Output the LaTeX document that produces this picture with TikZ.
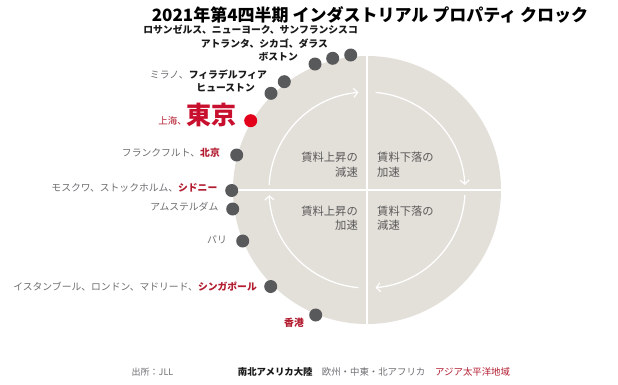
\documentclass[tikz,border=0pt]{standalone}
\usepackage{fontspec}
\setmainfont{Noto Sans CJK JP}
\usetikzlibrary{arrows.meta}
\definecolor{disk}{HTML}{E3DFD9}
\definecolor{dotgray}{HTML}{58595B}
\definecolor{dotred}{HTML}{E2001A}
\definecolor{txtred}{HTML}{B31B2F}
\definecolor{bigred}{HTML}{C8102E}
\definecolor{txtgray}{HTML}{6D6E71}
\definecolor{txtblack}{HTML}{1A1A1A}
\definecolor{quadtxt}{HTML}{5A5A5A}
\tikzset{
  city/.style={circle,fill=dotgray,inner sep=0pt,minimum size=13pt},
  redcity/.style={circle,fill=dotred,inner sep=0pt,minimum size=13pt},
  lab/.style={inner sep=0pt,anchor=east,font=\fontsize{9.8}{11}\selectfont},
  quad/.style={inner sep=0pt,text=quadtxt,font=\fontsize{11.3}{15}\selectfont},
  cyc/.style={draw=white,line width=1.3pt,-{Straight Barb[length=4pt,width=9pt,line width=1.2pt]}},
  leg/.style={inner sep=0pt,anchor=west,font=\fontsize{9.4}{11}\selectfont}
}
\newcommand{\am}[1]{\textcolor{txtblack}{\bfseries #1}}
\newcommand{\eu}[1]{\textcolor{txtgray}{#1}}
\newcommand{\ap}[1]{\textcolor{txtred}{\bfseries #1}}
\begin{document}
\begin{tikzpicture}[x=1pt,y=1pt]
\useasboundingbox (0,0) rectangle (618,-384);
\fill[white] (0,0) rectangle (618,-384);
% disk
\coordinate (C) at (367,-190);
\fill[disk] (C) circle[radius=134];
\draw[white,line width=1.5pt] (367,-56) -- (367,-324);
\draw[white,line width=1.5pt] (233,-190) -- (501,-190);
% cycle arrows
\draw[cyc] (C) ++(177:98) arc[start angle=177,end angle=95,radius=98];
\draw[cyc] (C) ++(85:98) arc[start angle=85,end angle=3,radius=98];
\draw[cyc] (C) ++(-3:98) arc[start angle=-3,end angle=-85,radius=98];
\draw[cyc] (C) ++(-95:98) arc[start angle=-95,end angle=-177,radius=98];
% quadrant texts
\node[quad,anchor=east] (q1a) at (358,-157) {賃料上昇の};
\node[quad,anchor=east] (q1b) at (358,-172) {減速};
\node[quad,anchor=west] (q2a) at (377,-157) {賃料下落の};
\node[quad,anchor=west] (q2b) at (377,-172) {加速};
\node[quad,anchor=east] (q3a) at (358,-211) {賃料上昇の};
\node[quad,anchor=east] (q3b) at (358,-225) {加速};
\node[quad,anchor=west] (q4a) at (377,-211) {賃料下落の};
\node[quad,anchor=west] (q4b) at (377,-225) {減速};
% title
\node[inner sep=0pt,font=\fontsize{17}{20}\selectfont\bfseries] (title) at (370,-15) {2021年第4四半期 インダストリアル プロパティ クロック};
% dots
\node[city] (d1) at (350.7,-55) {};
\node[city] (d2) at (332.7,-58.3) {};
\node[city] (d3) at (315,-64) {};
\node[city] (d4) at (284.3,-81.7) {};
\node[city] (d5) at (271,-93.3) {};
\node[redcity] (d6) at (250.7,-120.7) {};
\node[city] (d7) at (236.7,-155) {};
\node[city] (d8) at (231.7,-190.5) {};
\node[city] (d9) at (232.7,-209) {};
\node[city] (d10) at (242.7,-241) {};
\node[city] (d11) at (270.7,-286.5) {};
\node[city] (d12) at (315.7,-315) {};
% labels
\node[lab] (l1) at (358,-30) {\am{ロサンゼルス、ニューヨーク、サンフランシスコ}};
\node[lab] (l2) at (328,-44) {\am{アトランタ、シカゴ、ダラス}};
\node[lab] (l3) at (298,-57) {\am{ボストン}};
\node[lab] (l4) at (267,-75) {\eu{ミラノ、}\am{フィラデルフィア}};
\node[lab] (l5) at (255,-88.3) {\am{ヒューストン}};
\node[inner sep=0pt,anchor=base east] (l6) at (237,-124) {\textcolor{txtred}{\fontsize{9.5}{11}\selectfont 上海、}\textcolor{bigred}{\fontsize{25}{28}\selectfont\bfseries 東京}};
\node[lab] (l7) at (220,-153) {\eu{フランクフルト、}\ap{北京}};
\node[lab] (l8) at (217.5,-188) {\eu{モスクワ、ストックホルム、}\ap{シドニー}};
\node[lab] (l9) at (218.5,-207) {\eu{アムステルダム}};
\node[lab] (l10) at (227,-239.5) {\eu{パリ}};
\node[lab] (l11) at (257,-287) {\eu{イスタンブール、ロンドン、マドリード、}\ap{シンガポール}};
\node[lab] (l12) at (304,-322.3) {\ap{香港}};
% legend
\node[leg,text=txtgray,font=\fontsize{9}{11}\selectfont] (src) at (131.5,-372) {出所：JLL};
\node[leg] (g1) at (237.7,-372) {\am{南北アメリカ大陸}};
\node[leg] (g2) at (321.7,-372) {\eu{欧州・中東・北アフリカ}};
\node[leg] (g3) at (435,-372) {\textcolor{txtred}{アジア太平洋地域}};
\end{tikzpicture}
\end{document}
